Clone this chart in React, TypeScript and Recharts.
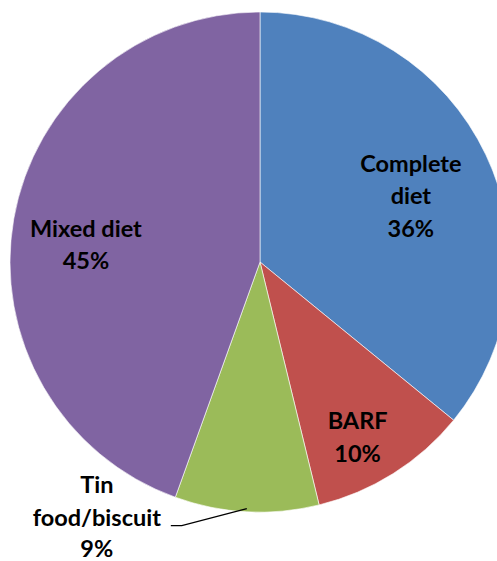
import { Cell, Pie, PieChart } from "recharts";

const categories = ["Complete diet", "BARF", "Tin food/biscuit", "Mixed diet"];
const labelLines = [["Complete", "diet"], ["BARF"], ["Tin", "food/biscuit"], ["Mixed diet"]];
const shares = [35.9, 10.3, 9.3, 44.5];
const percentLabels = ["36%", "10%", "9%", "45%"];
const colors = ["#4F81BD", "#C0504D", "#9BBB59", "#8064A2"];

const data = categories.map((name, i) => ({ name, value: shares[i] }));

const RAD = Math.PI / 180;
// radial position of each label (fraction of radius) and angle nudge in degrees
const placement = [
  { r: 0.66, da: 1.5 },
  { r: 0.8, da: 3 },
  { r: 1, da: 0 },
  { r: 0.7, da: -4 },
];
const LINE = 32.5;

const renderLabel = (props: any) => {
  const { cx, cy, midAngle, outerRadius, index } = props;
  const lines = [...labelLines[index], percentLabels[index]];
  const p = placement[index];
  const style = {
    fontFamily: "Lato, 'Open Sans', sans-serif",
    fontWeight: 700,
    fontSize: 23.5,
    fill: "#000",
  };

  if (index === 2) {
    const a = -midAngle * RAD;
    const ex = cx + (outerRadius - 3) * Math.cos(a);
    const ey = cy + (outerRadius - 3) * Math.sin(a);
    const kx = ex - 65;
    const ky = ey + 17;
    const tx = kx - 11;
    const textX = tx - 74;
    const top = ky - 9 - LINE;
    return (
      <g>
        <polyline
          points={`${ex},${ey} ${kx},${ky} ${tx},${ky}`}
          fill="none"
          stroke="#000"
          strokeWidth={1.3}
        />
        <text x={textX} y={top} textAnchor="middle" dominantBaseline="central" style={style}>
          {lines.map((l, i) => (
            <tspan key={i} x={textX} dy={i === 0 ? 0 : i === 2 ? LINE - 1.5 : LINE}>
              {l}
            </tspan>
          ))}
        </text>
      </g>
    );
  }

  const a = -(midAngle - p.da) * RAD;
  const x = cx + outerRadius * p.r * Math.cos(a);
  const y = cy + outerRadius * p.r * Math.sin(a);
  const top = y - ((lines.length - 1) * LINE) / 2;
  return (
    <text x={x} y={top} textAnchor="middle" dominantBaseline="central" style={style}>
      {lines.map((l, i) => (
        <tspan key={i} x={x} dy={i === 0 ? 0 : LINE}>
          {l}
        </tspan>
      ))}
    </text>
  );
};

export default function App() {
  return (
    <div style={{ position: "fixed", left: 0, top: 0, width: 497, height: 561, background: "#fff" }}>
      <PieChart width={497} height={561} margin={{ top: 0, right: 0, bottom: 0, left: 0 }}>
        <Pie
          data={data}
          dataKey="value"
          nameKey="name"
          cx={260}
          cy={262}
          outerRadius={250}
          startAngle={90}
          endAngle={-270}
          stroke="#ffffff"
          strokeWidth={0.6}
          label={renderLabel}
          labelLine={false}
          isAnimationActive={false}
        >
          {data.map((d, i) => (
            <Cell key={d.name} fill={colors[i]} />
          ))}
        </Pie>
      </PieChart>
    </div>
  );
}
